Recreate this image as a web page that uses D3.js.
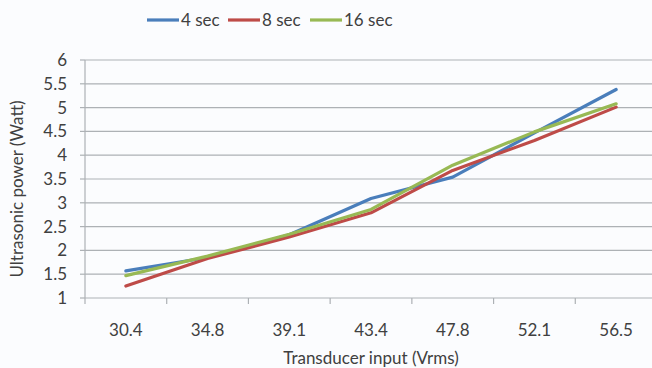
<!DOCTYPE html>
<html>
<head>
<meta charset="utf-8">
<script src="https://cdn.jsdelivr.net/npm/d3@7"></script>
<style>
  body { margin: 0; background: #fbfcfe; }
  svg text { font-family: Lato, "Open Sans", sans-serif; fill: #404040; }
</style>
</head>
<body>
<svg id="chart" width="652" height="368"></svg>
<script>
// ---- Data ----
const categories = ["30.4", "34.8", "39.1", "43.4", "47.8", "52.1", "56.5"];
const yTicks = [1, 1.5, 2, 2.5, 3, 3.5, 4, 4.5, 5, 5.5, 6];
const seriesNames = ["4 sec", "8 sec", "16 sec"];
const sec4 = [1.57, 1.85, 2.33, 3.09, 3.54, 4.47, 5.38];
const sec8 = [1.25, 1.83, 2.28, 2.79, 3.68, 4.31, 5.01];
const sec16 = [1.47, 1.88, 2.34, 2.86, 3.79, 4.49, 5.08];
const colors = ["#4a7ebb", "#be4b48", "#98b954"];

const allSeries = [sec4, sec8, sec16];

const svg = d3.select("#chart");
const plotLeft = 85, plotRight = 657, plotTop = 60, plotBottom = 298;
const fontSize = 17;

const x = d3.scaleBand().domain(categories).range([plotLeft, plotRight]);
const y = d3.scaleLinear().domain([1, 6]).range([plotBottom, plotTop]);

// gridlines
svg.append("g")
  .selectAll("line")
  .data(yTicks.slice(1))
  .join("line")
  .attr("x1", plotLeft).attr("x2", plotRight)
  .attr("y1", d => y(d)).attr("y2", d => y(d))
  .attr("stroke", "#adb1b5").attr("stroke-width", 1.2);

// y axis
svg.append("line")
  .attr("x1", plotLeft).attr("x2", plotLeft)
  .attr("y1", plotTop).attr("y2", plotBottom)
  .attr("stroke", "#adb1b5").attr("stroke-width", 1.2);
svg.append("g")
  .selectAll("line")
  .data(yTicks)
  .join("line")
  .attr("x1", plotLeft - 5).attr("x2", plotLeft)
  .attr("y1", d => y(d)).attr("y2", d => y(d))
  .attr("stroke", "#adb1b5").attr("stroke-width", 1.2);
svg.append("g")
  .selectAll("text")
  .data(yTicks)
  .join("text")
  .attr("x", 67)
  .attr("y", d => y(d) + 6)
  .attr("text-anchor", "end")
  .attr("font-size", fontSize)
  .text(d => d);

// x axis
svg.append("line")
  .attr("x1", plotLeft).attr("x2", plotRight)
  .attr("y1", plotBottom).attr("y2", plotBottom)
  .attr("stroke", "#adb1b5").attr("stroke-width", 1.2);
svg.append("g")
  .selectAll("line")
  .data(categories)
  .join("line")
  .attr("x1", d => x(d)).attr("x2", d => x(d))
  .attr("y1", plotBottom).attr("y2", plotBottom + 6)
  .attr("stroke", "#adb1b5").attr("stroke-width", 1.2);
svg.append("g")
  .selectAll("text")
  .data(categories)
  .join("text")
  .attr("x", d => x(d) + x.bandwidth() / 2)
  .attr("y", 336)
  .attr("text-anchor", "middle")
  .attr("font-size", fontSize)
  .text(d => d);

// axis titles
svg.append("text")
  .attr("x", (plotLeft + plotRight) / 2)
  .attr("y", 364)
  .attr("text-anchor", "middle")
  .attr("font-size", fontSize)
  .text("Transducer input (Vrms)");
svg.append("text")
  .attr("transform", "translate(23,189) rotate(-90)")
  .attr("text-anchor", "middle")
  .attr("font-size", fontSize)
  .text("Ultrasonic power (Watt)");

// lines
const line = d3.line()
  .x((d, i) => x(categories[i]) + x.bandwidth() / 2)
  .y(d => y(d));

allSeries.forEach((s, i) => {
  svg.append("path")
    .datum(s)
    .attr("d", line)
    .attr("fill", "none")
    .attr("stroke", colors[i])
    .attr("stroke-width", 3.2)
    .attr("stroke-linejoin", "round")
    .attr("stroke-linecap", "round");
});

// legend
const legendX = [147, 228, 310];
const legend = svg.append("g");
seriesNames.forEach((name, i) => {
  legend.append("line")
    .attr("x1", legendX[i]).attr("x2", legendX[i] + 32)
    .attr("y1", 20).attr("y2", 20)
    .attr("stroke", colors[i]).attr("stroke-width", 3.2);
  legend.append("text")
    .attr("x", legendX[i] + 34)
    .attr("y", 26)
    .attr("font-size", fontSize)
    .text(name);
});
</script>
</body>
</html>
